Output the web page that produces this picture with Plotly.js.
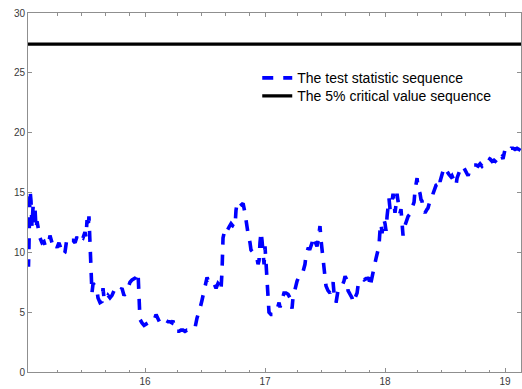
<!DOCTYPE html>
<html>
<head>
<meta charset="utf-8">
<script src="https://cdn.plot.ly/plotly-3.0.1.min.js"></script>
<style>html,body{margin:0;padding:0;background:#fff;}#chart{width:522px;height:389px;}</style>
</head>
<body>
<div id="chart"></div>
<script>
// Test statistic sequence (x = time, y = statistic)
const statX = [
15.025,15.029,15.033,15.038,15.042,15.050,15.058,15.067,15.075,15.083,15.092,15.100,15.108,15.125,15.142,15.158,15.167,15.183,15.200,15.208,
15.225,15.233,15.250,15.267,15.283,15.300,15.317,15.333,15.350,15.367,15.383,15.400,15.417,15.433,15.450,15.467,15.483,15.500,15.508,15.517,
15.525,15.533,15.542,15.546,15.550,15.558,15.567,15.583,15.600,15.608,15.625,15.642,15.650,15.658,15.675,15.692,15.708,15.725,15.742,15.758,
15.775,15.792,15.808,15.825,15.842,15.858,15.875,15.892,15.908,15.925,15.942,15.946,15.950,15.958,15.975,15.992,16.008,16.025,16.042,16.058,
16.075,16.092,16.108,16.125,16.142,16.158,16.175,16.192,16.208,16.225,16.233,16.250,16.267,16.283,16.300,16.317,16.333,16.350,16.367,16.383,
16.400,16.417,16.433,16.450,16.458,16.475,16.492,16.508,16.517,16.525,16.542,16.558,16.575,16.592,16.608,16.625,16.633,16.642,16.646,16.650,
16.667,16.683,16.700,16.717,16.733,16.750,16.758,16.767,16.783,16.800,16.817,16.833,16.842,16.850,16.858,16.875,16.883,16.900,16.917,16.933,
16.942,16.950,16.958,16.967,16.975,16.983,16.992,17.000,17.008,17.017,17.025,17.033,17.050,17.067,17.083,17.100,17.117,17.125,17.142,17.158,
17.175,17.192,17.208,17.225,17.233,17.250,17.267,17.283,17.300,17.317,17.333,17.342,17.358,17.375,17.392,17.400,17.417,17.433,17.442,17.450,
17.458,17.467,17.475,17.483,17.500,17.508,17.525,17.542,17.558,17.567,17.575,17.583,17.592,17.608,17.625,17.642,17.658,17.667,17.683,17.692,
17.708,17.725,17.733,17.750,17.767,17.775,17.792,17.808,17.825,17.842,17.858,17.867,17.875,17.892,17.908,17.925,17.942,17.950,17.958,17.967,
17.975,17.983,17.992,18.000,18.008,18.017,18.025,18.033,18.042,18.058,18.067,18.075,18.083,18.092,18.100,18.108,18.117,18.125,18.133,18.142,
18.150,18.158,18.175,18.192,18.208,18.225,18.242,18.250,18.258,18.267,18.275,18.292,18.300,18.308,18.317,18.333,18.350,18.358,18.375,18.392,
18.400,18.417,18.425,18.442,18.450,18.458,18.475,18.483,18.492,18.508,18.517,18.533,18.550,18.558,18.567,18.583,18.592,18.600,18.617,18.625,
18.633,18.650,18.667,18.683,18.692,18.708,18.725,18.742,18.758,18.775,18.792,18.808,18.825,18.842,18.858,18.875,18.892,18.908,18.925,18.942,
18.958,18.975,18.983,19.000,19.017,19.033,19.050,19.067,19.083,19.100,19.117,19.130
];
const statY = [
9.1,8.8,10.5,13.5,15.2,14.3,12.2,13.8,12.5,13.7,12.0,12.6,12.2,11.2,10.8,10.9,10.6,11.0,10.9,11.4,
10.8,11.0,10.7,10.4,10.8,10.2,9.8,10.0,11.2,11.1,11.0,11.0,10.8,11.3,11.0,11.3,11.2,11.7,11.3,12.7,
12.0,13.0,10.6,9.5,7.4,6.6,7.4,7.2,6.8,6.2,5.8,5.9,7.0,6.2,6.0,6.4,6.2,6.4,6.8,6.6,
6.6,6.8,7.0,6.4,6.6,7.0,7.5,7.7,7.8,7.9,8.3,7.4,5.5,4.4,4.1,3.9,4.0,4.1,4.1,4.2,
4.3,4.8,4.5,4.1,4.2,4.1,4.3,4.2,4.2,4.1,4.3,3.5,3.4,3.4,3.5,3.5,3.4,3.5,3.5,3.6,
3.6,3.7,4.5,5.0,5.3,6.0,6.8,7.5,7.9,7.7,7.8,7.5,7.4,7.0,7.4,7.2,6.8,8.5,10.5,11.2,
12.0,11.8,12.1,12.4,12.2,12.1,13.5,14.1,13.8,14.0,14.1,13.3,12.6,11.8,11.6,10.8,10.2,10.0,9.8,9.5,
9.0,9.3,10.8,11.7,11.0,9.9,9.0,10.5,8.8,8.0,6.0,5.0,4.8,4.8,5.0,5.2,5.8,5.4,6.0,6.6,
6.6,6.5,6.2,5.3,6.2,7.0,7.6,8.0,8.1,8.4,9.0,9.8,10.3,10.3,10.8,11.3,10.8,10.5,11.0,11.8,
12.2,11.0,10.2,9.6,8.0,7.2,6.8,6.6,7.2,7.5,6.6,6.2,5.8,6.8,7.0,7.2,7.6,8.0,7.7,6.8,
6.5,6.2,5.8,6.2,6.6,7.2,7.6,7.8,7.7,7.8,7.8,7.9,7.1,8.0,8.9,9.5,10.2,10.6,11.8,12.4,
11.6,12.0,12.7,12.4,11.8,13.0,14.0,14.5,13.6,14.2,14.9,13.6,13.3,14.0,14.9,14.3,13.5,13.3,13.6,12.4,
11.4,12.0,12.5,13.0,13.2,13.7,14.2,15.2,15.8,16.2,15.4,14.9,14.4,14.3,13.6,13.3,13.6,13.7,14.3,14.6,
14.9,15.4,15.6,15.7,16.2,15.9,16.4,16.8,17.1,16.9,16.7,16.5,16.3,16.4,16.2,15.8,15.6,16.2,16.6,16.8,
17.1,17.2,16.8,16.5,16.4,16.9,17.1,17.3,17.3,17.2,17.4,17.2,17.4,17.6,17.9,17.8,17.6,17.7,17.5,17.4,
17.8,18.0,17.8,18.6,18.7,18.5,18.7,18.7,18.6,18.7,18.6,18.5
];
// 5% critical value sequence
const critX = [15.025, 19.133];
const critY = [27.4, 27.4];
// Axis ticks
const xTicks = [16, 17, 18, 19];
const xMinorTicks = [15.27,15.47,15.67,15.87,16.27,16.47,16.67,16.87,17.27,17.47,17.67,17.87,18.27,18.47,18.67,18.87];
const yTicks = [0, 5, 10, 15, 20, 25, 30];
const seriesNames = ['The test statistic sequence', 'The 5% critical value sequence'];

const axisColor = '#8f8f8f';
const labelColor = '#3a3a3a';
const fontFam = 'Liberation Sans, Arial, Helvetica, sans-serif';

const traces = [
  {x: statX, y: statY, type: 'scatter', mode: 'lines', name: seriesNames[0], legend: 'legend',
   line: {color: 'rgb(0,0,255)', width: 3.6, dash: '11px,10px'}},
  {x: critX, y: critY, type: 'scatter', mode: 'lines', name: seriesNames[1], legend: 'legend2',
   line: {color: '#000000', width: 3.2}}
];

const legendBase = {xanchor: 'left', yanchor: 'top', bgcolor: 'rgba(0,0,0,0)', borderwidth: 0,
                    font: {family: fontFam, size: 14, color: '#000'}};

const layout = {
  width: 522, height: 389,
  margin: {l: 28, r: 1, t: 13, b: 17, pad: 0},
  paper_bgcolor: '#ffffff', plot_bgcolor: '#ffffff',
  showlegend: true,
  legend: Object.assign({x: 0.465, y: 0.8627}, legendBase),
  legend2: Object.assign({x: 0.465, y: 0.8125}, legendBase),
  xaxis: {range: [15.025, 19.133], tickmode: 'array', tickvals: xTicks, ticktext: xTicks.map(String),
          ticks: 'inside', ticklen: 4, tickwidth: 1, tickcolor: axisColor,
          showline: true, linecolor: axisColor, linewidth: 1, mirror: 'ticks',
          showgrid: false, zeroline: false,
          tickfont: {family: fontFam, size: 10, color: labelColor},
          minor: {tickmode: 'array', tickvals: xMinorTicks, ticks: 'inside', ticklen: 2.5, tickcolor: axisColor, showgrid: false}},
  yaxis: {range: [0, 30], tickmode: 'array', tickvals: yTicks, ticktext: yTicks.map(String),
          ticks: 'inside', ticklen: 4, tickwidth: 1, tickcolor: axisColor,
          showline: true, linecolor: axisColor, linewidth: 1, mirror: 'ticks',
          showgrid: false, zeroline: false,
          tickfont: {family: fontFam, size: 10, color: labelColor}}
};

Plotly.newPlot('chart', traces, layout, {displayModeBar: false, staticPlot: true});
</script>
</body>
</html>
